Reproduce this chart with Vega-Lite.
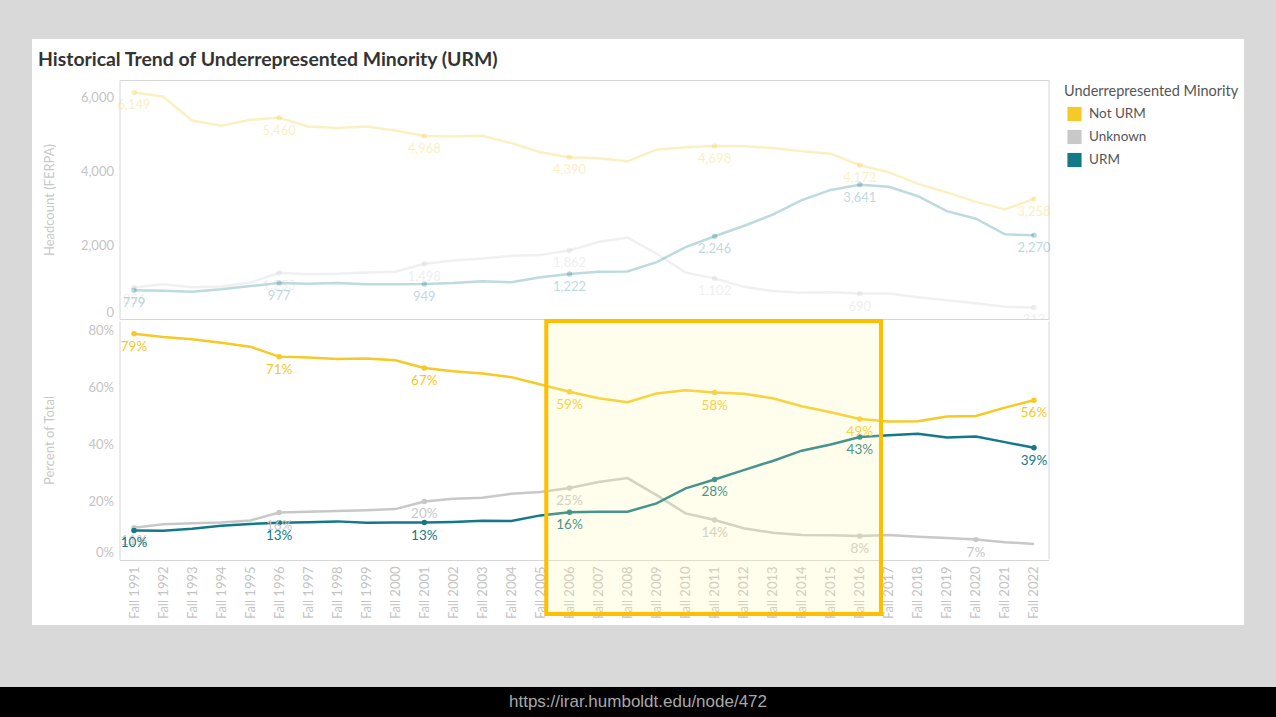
{
  "$schema": "https://vega.github.io/schema/vega-lite/v6.json",
  "background": "#d9d9d9",
  "padding": {"top": 39, "left": 0, "right": 0, "bottom": 0},
  "config": {"font": "Lato", "view": {"stroke": null}},
  "datasets": {
    "d": [
      {"yr":1991,"g":"Unknown","hc":856,"pct":0.110,"lt":1,"lb":1},
      {"yr":1992,"g":"Unknown","hc":946,"pct":0.122,"lt":0,"lb":0},
      {"yr":1993,"g":"Unknown","hc":860,"pct":0.125,"lt":0,"lb":0},
      {"yr":1994,"g":"Unknown","hc":880,"pct":0.128,"lt":0,"lb":0},
      {"yr":1995,"g":"Unknown","hc":990,"pct":0.135,"lt":0,"lb":0},
      {"yr":1996,"g":"Unknown","hc":1253,"pct":0.163,"lt":1,"lb":1},
      {"yr":1997,"g":"Unknown","hc":1212,"pct":0.166,"lt":0,"lb":0},
      {"yr":1998,"g":"Unknown","hc":1225,"pct":0.168,"lt":0,"lb":0},
      {"yr":1999,"g":"Unknown","hc":1264,"pct":0.171,"lt":0,"lb":0},
      {"yr":2000,"g":"Unknown","hc":1285,"pct":0.175,"lt":0,"lb":0},
      {"yr":2001,"g":"Unknown","hc":1498,"pct":0.202,"lt":1,"lb":1},
      {"yr":2002,"g":"Unknown","hc":1585,"pct":0.211,"lt":0,"lb":0},
      {"yr":2003,"g":"Unknown","hc":1643,"pct":0.215,"lt":0,"lb":0},
      {"yr":2004,"g":"Unknown","hc":1714,"pct":0.229,"lt":0,"lb":0},
      {"yr":2005,"g":"Unknown","hc":1737,"pct":0.235,"lt":0,"lb":0},
      {"yr":2006,"g":"Unknown","hc":1862,"pct":0.249,"lt":1,"lb":1},
      {"yr":2007,"g":"Unknown","hc":2088,"pct":0.270,"lt":0,"lb":0},
      {"yr":2008,"g":"Unknown","hc":2210,"pct":0.284,"lt":0,"lb":0},
      {"yr":2009,"g":"Unknown","hc":1772,"pct":0.224,"lt":0,"lb":0},
      {"yr":2010,"g":"Unknown","hc":1259,"pct":0.160,"lt":0,"lb":0},
      {"yr":2011,"g":"Unknown","hc":1102,"pct":0.137,"lt":1,"lb":1},
      {"yr":2012,"g":"Unknown","hc":873,"pct":0.108,"lt":0,"lb":0},
      {"yr":2013,"g":"Unknown","hc":757,"pct":0.092,"lt":0,"lb":0},
      {"yr":2014,"g":"Unknown","hc":713,"pct":0.084,"lt":0,"lb":0},
      {"yr":2015,"g":"Unknown","hc":723,"pct":0.083,"lt":0,"lb":0},
      {"yr":2016,"g":"Unknown","hc":690,"pct":0.081,"lt":1,"lb":1},
      {"yr":2017,"g":"Unknown","hc":694,"pct":0.084,"lt":0,"lb":0},
      {"yr":2018,"g":"Unknown","hc":592,"pct":0.078,"lt":0,"lb":0},
      {"yr":2019,"g":"Unknown","hc":509,"pct":0.074,"lt":0,"lb":0},
      {"yr":2020,"g":"Unknown","hc":430,"pct":0.068,"lt":0,"lb":1},
      {"yr":2021,"g":"Unknown","hc":331,"pct":0.059,"lt":0,"lb":0},
      {"yr":2022,"g":"Unknown","hc":313,"pct":0.053,"lt":1,"lb":0},
      {"yr":1991,"g":"Not URM","hc":6149,"pct":0.790,"lt":1,"lb":1},
      {"yr":1992,"g":"Not URM","hc":6037,"pct":0.779,"lt":0,"lb":0},
      {"yr":1993,"g":"Not URM","hc":5388,"pct":0.771,"lt":0,"lb":0},
      {"yr":1994,"g":"Not URM","hc":5244,"pct":0.759,"lt":0,"lb":0},
      {"yr":1995,"g":"Not URM","hc":5406,"pct":0.745,"lt":0,"lb":0},
      {"yr":1996,"g":"Not URM","hc":5460,"pct":0.710,"lt":1,"lb":1},
      {"yr":1997,"g":"Not URM","hc":5226,"pct":0.707,"lt":0,"lb":0},
      {"yr":1998,"g":"Not URM","hc":5181,"pct":0.702,"lt":0,"lb":0},
      {"yr":1999,"g":"Not URM","hc":5226,"pct":0.703,"lt":0,"lb":0},
      {"yr":2000,"g":"Not URM","hc":5118,"pct":0.697,"lt":0,"lb":0},
      {"yr":2001,"g":"Not URM","hc":4968,"pct":0.670,"lt":1,"lb":1},
      {"yr":2002,"g":"Not URM","hc":4950,"pct":0.659,"lt":0,"lb":0},
      {"yr":2003,"g":"Not URM","hc":4974,"pct":0.651,"lt":0,"lb":0},
      {"yr":2004,"g":"Not URM","hc":4775,"pct":0.638,"lt":0,"lb":0},
      {"yr":2005,"g":"Not URM","hc":4523,"pct":0.612,"lt":0,"lb":0},
      {"yr":2006,"g":"Not URM","hc":4390,"pct":0.587,"lt":1,"lb":1},
      {"yr":2007,"g":"Not URM","hc":4361,"pct":0.564,"lt":0,"lb":0},
      {"yr":2008,"g":"Not URM","hc":4280,"pct":0.550,"lt":0,"lb":0},
      {"yr":2009,"g":"Not URM","hc":4595,"pct":0.581,"lt":0,"lb":0},
      {"yr":2010,"g":"Not URM","hc":4659,"pct":0.592,"lt":0,"lb":0},
      {"yr":2011,"g":"Not URM","hc":4698,"pct":0.584,"lt":1,"lb":1},
      {"yr":2012,"g":"Not URM","hc":4690,"pct":0.580,"lt":0,"lb":0},
      {"yr":2013,"g":"Not URM","hc":4640,"pct":0.564,"lt":0,"lb":0},
      {"yr":2014,"g":"Not URM","hc":4550,"pct":0.536,"lt":0,"lb":0},
      {"yr":2015,"g":"Not URM","hc":4487,"pct":0.515,"lt":0,"lb":0},
      {"yr":2016,"g":"Not URM","hc":4172,"pct":0.491,"lt":1,"lb":1},
      {"yr":2017,"g":"Not URM","hc":3984,"pct":0.482,"lt":0,"lb":0},
      {"yr":2018,"g":"Not URM","hc":3667,"pct":0.483,"lt":0,"lb":0},
      {"yr":2019,"g":"Not URM","hc":3437,"pct":0.500,"lt":0,"lb":0},
      {"yr":2020,"g":"Not URM","hc":3178,"pct":0.502,"lt":0,"lb":0},
      {"yr":2021,"g":"Not URM","hc":2976,"pct":0.531,"lt":0,"lb":0},
      {"yr":2022,"g":"Not URM","hc":3258,"pct":0.557,"lt":1,"lb":1},
      {"yr":1991,"g":"URM","hc":779,"pct":0.100,"lt":1,"lb":1},
      {"yr":1992,"g":"URM","hc":767,"pct":0.099,"lt":0,"lb":0},
      {"yr":1993,"g":"URM","hc":741,"pct":0.106,"lt":0,"lb":0},
      {"yr":1994,"g":"URM","hc":808,"pct":0.117,"lt":0,"lb":0},
      {"yr":1995,"g":"URM","hc":893,"pct":0.123,"lt":0,"lb":0},
      {"yr":1996,"g":"URM","hc":977,"pct":0.127,"lt":1,"lb":1},
      {"yr":1997,"g":"URM","hc":954,"pct":0.129,"lt":0,"lb":0},
      {"yr":1998,"g":"URM","hc":974,"pct":0.132,"lt":0,"lb":0},
      {"yr":1999,"g":"URM","hc":944,"pct":0.127,"lt":0,"lb":0},
      {"yr":2000,"g":"URM","hc":940,"pct":0.128,"lt":0,"lb":0},
      {"yr":2001,"g":"URM","hc":949,"pct":0.128,"lt":1,"lb":1},
      {"yr":2002,"g":"URM","hc":976,"pct":0.130,"lt":0,"lb":0},
      {"yr":2003,"g":"URM","hc":1024,"pct":0.134,"lt":0,"lb":0},
      {"yr":2004,"g":"URM","hc":995,"pct":0.133,"lt":0,"lb":0},
      {"yr":2005,"g":"URM","hc":1131,"pct":0.153,"lt":0,"lb":0},
      {"yr":2006,"g":"URM","hc":1222,"pct":0.164,"lt":1,"lb":1},
      {"yr":2007,"g":"URM","hc":1284,"pct":0.166,"lt":0,"lb":0},
      {"yr":2008,"g":"URM","hc":1292,"pct":0.166,"lt":0,"lb":0},
      {"yr":2009,"g":"URM","hc":1542,"pct":0.195,"lt":0,"lb":0},
      {"yr":2010,"g":"URM","hc":1952,"pct":0.248,"lt":0,"lb":0},
      {"yr":2011,"g":"URM","hc":2246,"pct":0.279,"lt":1,"lb":1},
      {"yr":2012,"g":"URM","hc":2523,"pct":0.312,"lt":0,"lb":0},
      {"yr":2013,"g":"URM","hc":2830,"pct":0.344,"lt":0,"lb":0},
      {"yr":2014,"g":"URM","hc":3226,"pct":0.380,"lt":0,"lb":0},
      {"yr":2015,"g":"URM","hc":3503,"pct":0.402,"lt":0,"lb":0},
      {"yr":2016,"g":"URM","hc":3641,"pct":0.428,"lt":1,"lb":1},
      {"yr":2017,"g":"URM","hc":3587,"pct":0.434,"lt":0,"lb":0},
      {"yr":2018,"g":"URM","hc":3333,"pct":0.439,"lt":0,"lb":0},
      {"yr":2019,"g":"URM","hc":2928,"pct":0.426,"lt":0,"lb":0},
      {"yr":2020,"g":"URM","hc":2722,"pct":0.430,"lt":0,"lb":0},
      {"yr":2021,"g":"URM","hc":2298,"pct":0.410,"lt":0,"lb":0},
      {"yr":2022,"g":"URM","hc":2270,"pct":0.390,"lt":1,"lb":1}
    ]
  },
  "spacing": 62,
  "center": true,
  "vconcat": [
    {
      "spacing": -1,
      "center": true,
      "vconcat": [
        {
          "width": 1212,
          "height": 281,
          "view": {"fill": "white", "stroke": null},
          "title": {"text": "Historical Trend of Underrepresented Minority (URM)", "anchor": "start", "frame": "group", "offset": -46, "dx": 6, "baseline": "alphabetic", "fontSize": 19.4, "font": "Lato", "fontWeight": "bold", "color": "#333333"},
          "data": {"name": "d"},
          "resolve": {"axis": {"x": "independent", "y": "independent"}},
          "layer": [
            {
              "mark": {"type": "line", "strokeWidth": 2.5, "opacity": 0.28},
              "encoding": {
                "x": {"field": "yr", "type": "quantitative", "scale": {"domain": [1990.5, 2022.5], "range": [87.5, 1016.5], "nice": false, "zero": false},
                      "axis": {"orient": "bottom", "offset": -1, "labels": false, "ticks": false, "grid": false, "domain": true, "domainColor": "#d6d6d6", "title": null, "minExtent": 0, "maxExtent": 0}},
                "y": {"field": "hc", "type": "quantitative", "scale": {"domain": [0, 6486], "range": [280, 41], "nice": false},
                      "axis": {"orient": "left", "offset": -87.5, "values": [0, 2000, 4000, 6000], "format": ",.0f", "labelColor": "#c4c4c4", "labelFontSize": 13, "labelPadding": 6, "labelFlush": true, "labelFlushOffset": 0, "ticks": false, "grid": false, "domain": true, "domainColor": "#d6d6d6", "title": "Headcount (FERPA)", "titleColor": "#c8c8c8", "titleFontSize": 13, "titleFontWeight": "normal", "minExtent": 42, "maxExtent": 42, "titlePadding": 21}},
                "stroke": {"field": "g", "type": "nominal", "scale": {"domain": ["URM", "Not URM", "Unknown"], "range": ["#137987", "#f5c926", "#c8c8c8"]}, "legend": null}
              }
            },
            {
              "transform": [{"filter": "datum.lt == 1"}],
              "mark": {"type": "circle", "size": 30, "opacity": 0.28},
              "encoding": {
                "x": {"field": "yr", "type": "quantitative", "axis": null},
                "y": {"field": "hc", "type": "quantitative", "axis": null},
                "fill": {"field": "g", "type": "nominal", "scale": {"domain": ["URM", "Not URM", "Unknown"], "range": ["#137987", "#f5c926", "#c8c8c8"]}, "legend": null}
              }
            },
            {
              "transform": [{"filter": "datum.lt == 1"}],
              "mark": {"type": "text", "dy": 13, "fontSize": 13, "opacity": 0.28, "clip": true},
              "encoding": {
                "x": {"field": "yr", "type": "quantitative", "axis": null},
                "y": {"field": "hc", "type": "quantitative", "axis": null},
                "text": {"field": "hc", "type": "quantitative", "format": ","},
                "fill": {"field": "g", "type": "nominal", "legend": null}
              }
            },
            {
              "mark": {"type": "point", "opacity": 0},
              "encoding": {
                "x": {"field": "yr", "type": "quantitative", "axis": {"orient": "top", "offset": -41, "labels": false, "ticks": false, "grid": false, "domain": true, "domainColor": "#d6d6d6", "title": null, "minExtent": 0, "maxExtent": 0}},
                "y": {"field": "hc", "type": "quantitative", "axis": {"orient": "right", "offset": -195.5, "labels": false, "ticks": false, "grid": false, "domain": true, "domainColor": "#d6d6d6", "title": null, "minExtent": 0, "maxExtent": 0}}
              }
            }
          ]
        },
        {
          "width": 1212,
          "height": 305,
          "view": {"fill": "white", "stroke": null},
          "data": {"name": "d"},
          "resolve": {"axis": {"x": "independent", "y": "independent"}},
          "layer": [
            {
              "mark": {"type": "line", "strokeWidth": 2.5},
              "encoding": {
                "x": {"field": "yr", "type": "quantitative", "scale": {"domain": [1990.5, 2022.5], "range": [87.5, 1016.5], "nice": false, "zero": false},
                      "axis": {"orient": "bottom", "offset": -65, "values": [1991,1992,1993,1994,1995,1996,1997,1998,1999,2000,2001,2002,2003,2004,2005,2006,2007,2008,2009,2010,2011,2012,2013,2014,2015,2016,2017,2018,2019,2020,2021,2022], "labelExpr": "'Fall ' + datum.value", "labelAngle": 270, "labelAlign": "right", "labelBaseline": "middle", "labelFontSize": 13, "labelColor": "#c4c4c4", "labelPadding": 6, "labelOverlap": false, "labelBound": false, "labelFlush": false, "ticks": false, "grid": false, "domain": true, "domainColor": "#d6d6d6", "title": null}},
                "y": {"field": "pct", "type": "quantitative", "scale": {"domain": [0, 0.835], "range": [239, 1], "nice": false},
                      "axis": {"orient": "left", "offset": -87.5, "values": [0, 0.2, 0.4, 0.6, 0.8], "format": ".0%", "labelColor": "#c4c4c4", "labelFontSize": 13, "labelPadding": 6, "labelFlush": true, "labelFlushOffset": 0, "ticks": false, "grid": false, "domain": true, "domainColor": "#d6d6d6", "title": "Percent of Total", "titleColor": "#c8c8c8", "titleFontSize": 13, "titleFontWeight": "normal", "minExtent": 42, "maxExtent": 42, "titlePadding": 21}},
                "stroke": {"field": "g", "type": "nominal", "scale": {"domain": ["URM", "Not URM", "Unknown"], "range": ["#137987", "#f5c926", "#c8c8c8"]}, "legend": null}
              }
            },
            {
              "transform": [{"filter": "datum.lb == 1"}],
              "mark": {"type": "circle", "size": 30, "opacity": 1},
              "encoding": {
                "x": {"field": "yr", "type": "quantitative", "axis": null},
                "y": {"field": "pct", "type": "quantitative", "axis": null},
                "color": {"field": "g", "type": "nominal", "scale": {"domain": ["Not URM", "Unknown", "URM"], "range": ["#f5c926", "#c8c8c8", "#137987"]},
                          "legend": {"orient": "none", "legendX": 1064, "legendY": 46, "title": "Underrepresented Minority", "titleFontSize": 14.5, "titleFontWeight": "normal", "titleColor": "#555555", "titlePadding": 7, "labelFontSize": 13.5, "labelColor": "#555555", "labelOffset": 7, "symbolOffset": 3, "symbolType": "square", "symbolSize": 200, "symbolOpacity": 1, "symbolStrokeWidth": 0, "rowPadding": 8}}
              }
            },
            {
              "transform": [{"filter": "datum.lb == 1"}],
              "mark": {"type": "text", "dy": 13, "fontSize": 13.5},
              "encoding": {
                "x": {"field": "yr", "type": "quantitative", "axis": null},
                "y": {"field": "pct", "type": "quantitative", "axis": null},
                "text": {"field": "pct", "type": "quantitative", "format": ".0%"},
                "fill": {"field": "g", "type": "nominal", "legend": null}
              }
            },
            {
              "data": {"values": [{"note": "highlight"}]},
              "mark": {"type": "rect", "fill": "#fff4a8", "fillOpacity": 0.22, "stroke": "#ffbf00", "strokeWidth": 4},
              "encoding": {
                "x": {"datum": 2005.2, "type": "quantitative", "axis": null},
                "x2": {"datum": 2016.73},
                "y": {"datum": 0.835, "type": "quantitative", "axis": null},
                "y2": {"datum": -0.193}
              }
            },
            {
              "mark": {"type": "point", "opacity": 0},
              "encoding": {
                "x": {"field": "yr", "type": "quantitative", "axis": null},
                "y": {"field": "pct", "type": "quantitative", "axis": {"orient": "right", "offset": -195.5, "labels": false, "ticks": false, "grid": false, "domain": true, "domainColor": "#d6d6d6", "title": null, "minExtent": 0, "maxExtent": 0}}
              }
            }
          ]
        }
      ]
    },
    {
      "width": 1276,
      "height": 30,
      "view": {"fill": "#000000", "stroke": null},
      "data": {"values": [{"u": "https://irar.humboldt.edu/node/472"}]},
      "mark": {"type": "text", "font": "Liberation Sans", "fontSize": 17, "color": "#a8a8a8"},
      "encoding": {"text": {"field": "u", "type": "nominal"}}
    }
  ]
}
